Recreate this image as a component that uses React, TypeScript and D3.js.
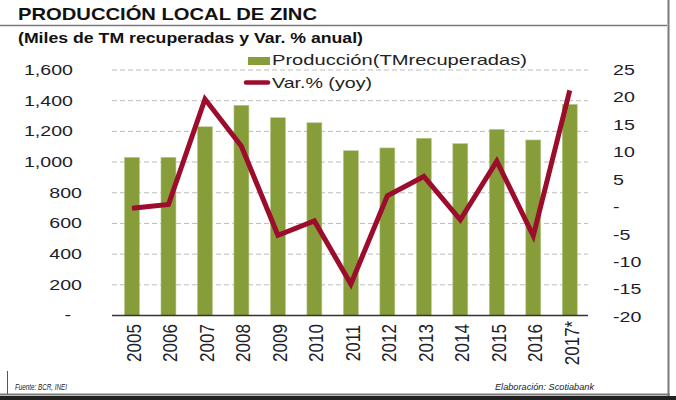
import React from "react";
import * as d3 from "d3";

const years = ["2005", "2006", "2007", "2008", "2009", "2010", "2011", "2012", "2013", "2014", "2015", "2016", "2017*"];
const production = [1031, 1031, 1230, 1370, 1289, 1256, 1074, 1092, 1155, 1120, 1213, 1144, 1376];
const variation = [-0.2, 0.5, 19.7, 11.1, -5.1, -2.5, -14.0, 2.1, 5.6, -2.3, 8.4, -5.2, 21.3];
const leftTicks = [0, 200, 400, 600, 800, 1000, 1200, 1400, 1600];
const rightTicks = [-20, -15, -10, -5, 0, 5, 10, 15, 20, 25];

const W = 676;
const H = 400;
const GREEN = "#879D3A";
const RED = "#9C0C2C";
const INK = "#1d1d2b";
const FONT = "'Liberation Sans', Arial, sans-serif";
const SX = 1.4;

export default function App() {
  const x = d3.scaleBand<string>().domain(years).range([113.75, 588]).paddingInner(0.59).paddingOuter(0.295);
  const yL = d3.scaleLinear().domain([0, 1600]).range([315.5, 70]);
  const yR = d3.scaleLinear().domain([-20, 25]).range([317, 70]);
  const fmt = d3.format(",");
  const cx = (d: string) => (x(d) as number) + x.bandwidth() / 2;

  const line = d3
    .line<number>()
    .x((_, i) => cx(years[i]))
    .y((v) => yR(v));

  return (
    <svg
      width={W}
      height={H}
      viewBox={`0 0 ${W} ${H}`}
      style={{ position: "fixed", left: 0, top: 0, background: "#fff" }}
    >
      <rect x={0} y={0} width={W} height={H} fill="#fff" />
      {/* frame */}
      <line x1={0} x2={667} y1={25.5} y2={25.5} stroke="#7a7a7a" strokeWidth={1.6} />
      <line x1={668.5} x2={668.5} y1={0} y2={396} stroke="#7a7a7a" strokeWidth={2} />
      <line x1={0} x2={670} y1={394.5} y2={394.5} stroke="#7a7a7a" strokeWidth={2} />
      <rect x={0} y={396} width={W} height={4} fill="#222" />
      <line x1={7.5} x2={7.5} y1={371} y2={394} stroke="#555" strokeWidth={1} />

      {/* title */}
      <text x={18} y={20} fontFamily={FONT} fontWeight="bold" fontSize={17} fill="#111" textLength={299} lengthAdjust="spacingAndGlyphs">
        PRODUCCIÓN LOCAL DE ZINC
      </text>
      <text x={18} y={43} fontFamily={FONT} fontWeight="bold" fontSize={15} fill="#111" textLength={345} lengthAdjust="spacingAndGlyphs">
        (Miles de TM recuperadas y Var. % anual)
      </text>

      {/* gridlines */}
      {leftTicks
        .filter((t) => t > 0)
        .map((t) => (
          <line key={t} x1={112} x2={588} y1={yL(t)} y2={yL(t)} stroke="#bdbdbd" strokeWidth={1} strokeDasharray="5,3" />
        ))}

      {/* bars */}
      {years.map((yr, i) => (
        <rect
          key={yr}
          x={x(yr)}
          y={yL(production[i])}
          width={x.bandwidth()}
          height={yL(0) - yL(production[i])}
          fill={GREEN}
          stroke="#b9c98d"
          strokeWidth={0.6}
        />
      ))}

      {/* baseline */}
      <line x1={112} x2={588} y1={315.5} y2={315.5} stroke="#333" strokeWidth={1.5} />

      {/* variation line */}
      <path d={line(variation) || ""} fill="none" stroke={RED} strokeWidth={5} strokeLinejoin="miter" strokeLinecap="butt" />

      {/* left axis labels */}
      {leftTicks.map((t) => {
        const big = t >= 1000;
        const ax = t === 0 ? 71 : big ? 73 : 82;
        return (
          <text
            key={t}
            transform={`translate(${ax},${yL(t)}) scale(${SX},1)`}
            dy="0.35em"
            textAnchor="end"
            fontFamily={FONT}
            fontSize={14}
            fill={INK}
          >
            {t === 0 ? "-" : fmt(t)}
          </text>
        );
      })}

      {/* right axis labels */}
      {rightTicks.map((t) => (
        <text
          key={t}
          transform={`translate(613,${yR(t)}) scale(${SX},1)`}
          dy="0.35em"
          textAnchor="start"
          fontFamily={FONT}
          fontSize={14}
          fill={INK}
        >
          {t === 0 ? "-" : String(t)}
        </text>
      ))}

      {/* x labels */}
      {years.map((yr) => (
        <text
          key={yr}
          transform={`translate(${cx(yr) + 1.5},343) scale(1.22,1) rotate(-90)`}
          dy="0.36em"
          textAnchor="middle"
          fontFamily={FONT}
          fontSize={17}
          fill={INK}
        >
          {yr}
        </text>
      ))}

      {/* legend */}
      <rect x={248} y={57} width={22} height={8} fill={GREEN} />
      <text x={272} y={65} fontFamily={FONT} fontSize={15} fill="#222" textLength={255} lengthAdjust="spacingAndGlyphs">
        Producción(TMrecuperadas)
      </text>
      <line x1={246} x2={268} y1={82.5} y2={82.5} stroke={RED} strokeWidth={4.5} strokeLinecap="round" />
      <text x={272} y={88} fontFamily={FONT} fontSize={15} fill="#222" textLength={100} lengthAdjust="spacingAndGlyphs">
        Var.% (yoy)
      </text>

      {/* footer */}
      <text x={15} y={390} fontFamily={FONT} fontStyle="italic" fontSize={8.5} fill="#222" textLength={52} lengthAdjust="spacingAndGlyphs">
        Fuente: BCR, INEI
      </text>
      <text x={495} y={390} fontFamily={FONT} fontStyle="italic" fontSize={8.5} fill="#222" textLength={99} lengthAdjust="spacingAndGlyphs">
        Elaboración: Scotiabank
      </text>
    </svg>
  );
}
